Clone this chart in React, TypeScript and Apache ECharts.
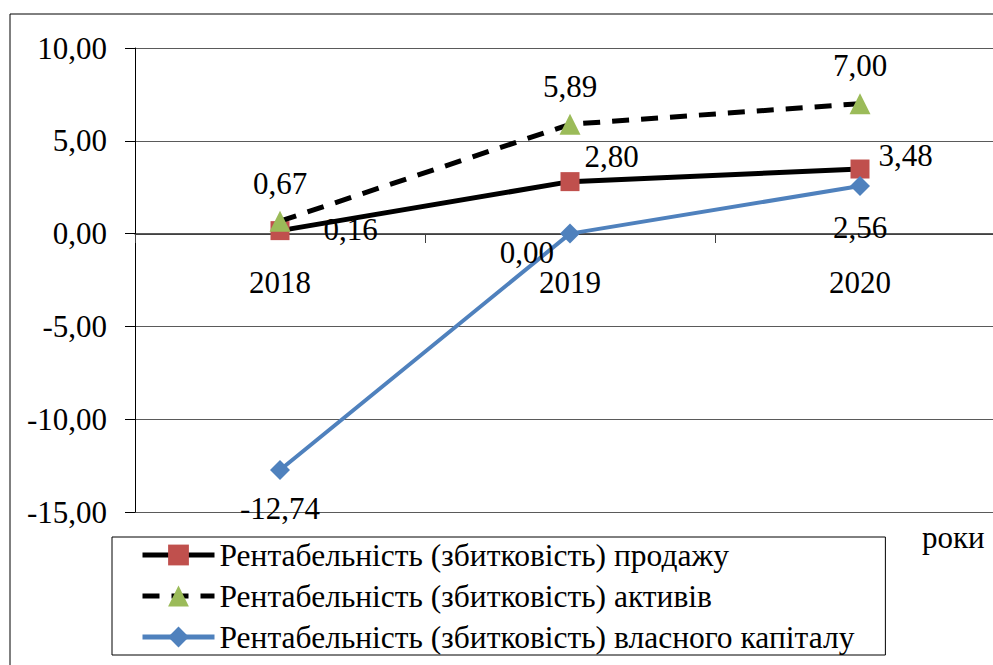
import React, { useEffect, useRef } from "react";
import * as echarts from "echarts";

// Роки аналізу
const years = ["2018", "2019", "2020"];

// Показники рентабельності, %
const salesProfitability = [0.16, 2.8, 3.48];
const assetsProfitability = [0.67, 5.89, 7.0];
const equityProfitability = [-12.74, 0.0, 2.56];

const seriesNames = [
  "Рентабельність (збитковість) продажу",
  "Рентабельність (збитковість) активів",
  "Рентабельність (збитковість) власного капіталу",
];

const axisName = "роки";

const FONT = "Liberation Serif";
const fmt = (v: number) => v.toFixed(2).replace(".", ",");

export default function App() {
  const ref = useRef<HTMLDivElement>(null);

  useEffect(() => {
    if (!ref.current) return;
    const chart = echarts.init(ref.current, undefined, { renderer: "svg" });

    const labelBase = {
      show: true,
      fontFamily: FONT,
      fontSize: 31,
      color: "#000",
      formatter: (p: any) => fmt(p.value as number),
    };

    // plot area: 10,00 at the top edge, -15,00 at the bottom; category axis drawn at zero
    const gridTop = 48;
    const gridBottomPx = 512;
    const zeroPx = 234;

    chart.setOption({
      animation: false,
      backgroundColor: "#fff",
      grid: {
        left: 135,
        top: gridTop,
        right: -12,
        bottom: 665 - gridBottomPx,
        containLabel: false,
        outerBoundsMode: "none",
      },
      xAxis: {
        type: "category",
        data: years,
        boundaryGap: true,
        position: "bottom",
        offset: -(gridBottomPx - zeroPx),
        axisLine: { onZero: false, lineStyle: { color: "#404040", width: 1 } },
        axisTick: { show: true, length: 9, lineStyle: { color: "#404040" } },
        axisLabel: { fontFamily: FONT, fontSize: 31, color: "#000", margin: 33 },
        splitLine: { show: false },
      },
      yAxis: {
        type: "value",
        min: -15,
        max: 10,
        interval: 5,
        axisLine: { show: true, lineStyle: { color: "#000", width: 1 } },
        axisTick: { show: true, length: 10, lineStyle: { color: "#000" } },
        axisLabel: {
          fontFamily: FONT,
          fontSize: 31,
          color: "#000",
          margin: 28,
          formatter: (v: number) => fmt(v),
        },
        splitLine: { show: true, lineStyle: { color: "#5a5a5a", width: 1 } },
      },
      legend: {
        orient: "vertical",
        left: 112,
        top: 537,
        padding: [2, 31, 2, 28],
        itemWidth: 72,
        itemHeight: 26,
        itemGap: 9,
        borderColor: "#000",
        borderWidth: 1,
        lineStyle: { width: 5 },
        textStyle: { fontFamily: FONT, fontSize: 31.5, color: "#000" },
        data: seriesNames,
      },
      graphic: [
        {
          type: "rect",
          shape: { x: 10, y: 14, width: 1000, height: 700 },
          style: { fill: "none", stroke: "#000", lineWidth: 1 },
          silent: true,
          z: -10,
        },
        {
          type: "text",
          x: 922,
          y: 522,
          style: {
            text: axisName,
            font: "31px 'Liberation Serif', serif",
            fill: "#000",
            textVerticalAlign: "alphabetic",
          },
        },
      ],
      series: [
        {
          name: seriesNames[0],
          type: "line",
          symbol: "rect",
          symbolSize: 19,
          itemStyle: { color: "#C0504D" },
          lineStyle: { color: "#000", width: 5 },
          label: labelBase,
          z: 2,
          data: salesProfitability.map((v, i) => ({
            value: v,
            label:
              i === 0
                ? { position: "right", distance: 34, offset: [0, -1] }
                : i === 1
                ? { position: "right", distance: 5, offset: [0, -25] }
                : { position: "right", distance: 9, offset: [0, -14] },
          })),
        },
        {
          name: seriesNames[1],
          type: "line",
          symbol: "triangle",
          symbolSize: 21,
          itemStyle: { color: "#9BBB59" },
          lineStyle: { color: "#000", width: 5, type: [17, 12] },
          label: { ...labelBase, position: "top", distance: 12 },
          z: 3,
          data: assetsProfitability.map((v) => ({ value: v })),
        },
        {
          name: seriesNames[2],
          type: "line",
          symbol: "diamond",
          symbolSize: 20,
          itemStyle: { color: "#4F81BD" },
          lineStyle: { color: "#4F81BD", width: 4 },
          label: labelBase,
          z: 4,
          data: equityProfitability.map((v, i) => ({
            value: v,
            label:
              i === 0
                ? { position: "bottom", distance: 13 }
                : i === 1
                ? { position: "left", distance: 6, offset: [0, 19] }
                : { position: "bottom", distance: 16 },
          })),
        },
      ],
    });

    return () => chart.dispose();
  }, []);

  return (
    <div
      ref={ref}
      style={{ position: "fixed", left: 0, top: 0, width: 993, height: 665 }}
    />
  );
}
